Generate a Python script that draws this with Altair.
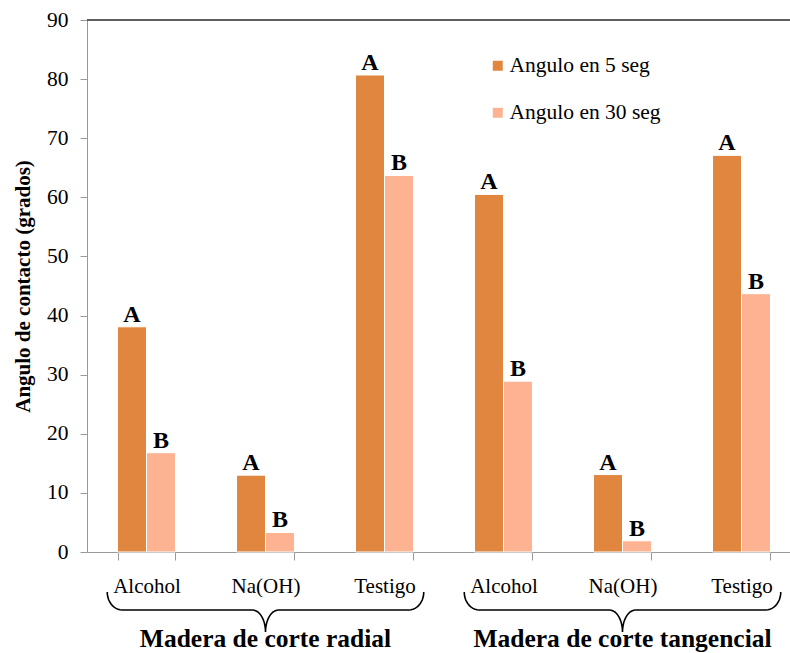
import altair as alt
import pandas as pd
import numpy as np

# ---- data ----
categories = ["Alcohol", "Na(OH)", "Testigo"]
groups = ["Madera de corte radial", "Madera de corte tangencial"]
series = ["Angulo en 5 seg", "Angulo en 30 seg"]
values_5 = [38.1, 13.0, 80.7, 60.5, 13.1, 67.1]
values_30 = [16.8, 3.3, 63.7, 28.9, 1.9, 43.7]
letters_5 = ["A", "A", "A", "A", "A", "A"]
letters_30 = ["B", "B", "B", "B", "B", "B"]

SERIF = "'Liberation Serif', 'Times New Roman', 'DejaVu Serif', serif"
DARK = "#E0863E"
LIGHT = "#FDB391"

keys = [f"{c}|{g}" for g in range(len(groups)) for c in categories]

rows = []
for i, k in enumerate(keys):
    rows.append({"key": k, "series": series[0], "value": values_5[i], "letter": letters_5[i]})
    rows.append({"key": k, "series": series[1], "value": values_30[i], "letter": letters_30[i]})
df = pd.DataFrame(rows)

PLOT_W = 703
RANGE_W = 714
PLOT_H = 532

xenc = alt.X(
    "key:N",
    sort=keys,
    scale=alt.Scale(domain=keys, range=[0, RANGE_W], paddingInner=0.513, paddingOuter=0.2565),
    axis=alt.Axis(
        title=None,
        labelExpr="split(datum.label, '|')[0]",
        labelAngle=0,
        labelFont=SERIF,
        labelFontSize=21,
        labelColor="black",
        labelBaseline="alphabetic",
        labelPadding=32,
        tickSize=8,
        tickBand="extent",
        tickColor="#999",
        domainColor="#999",
        grid=False,
    ),
)
yscale = alt.Scale(domain=[0, 90], nice=False)

bars = alt.Chart(df).mark_bar(stroke="white", strokeWidth=1).encode(
    x=xenc,
    xOffset=alt.XOffset("series:N", sort=series, scale=alt.Scale(domain=series, paddingInner=0, paddingOuter=0)),
    y=alt.Y(
        "value:Q",
        scale=yscale,
        axis=alt.Axis(
            values=list(range(0, 91, 10)),
            title="Angulo de contacto (grados)",
            titleFont=SERIF,
            titleFontSize=21,
            titleFontWeight="bold",
            titleColor="black",
            titlePadding=13,
            labelFont=SERIF,
            labelFontSize=21.5,
            labelColor="black",
            labelPadding=12,
            tickSize=7,
            tickColor="#999",
            domainColor="#999",
            grid=False,
        ),
    ),
    color=alt.Color(
        "series:N",
        sort=series,
        scale=alt.Scale(domain=series, range=[DARK, LIGHT]),
        legend=alt.Legend(
            orient="none",
            legendX=400,
            legendY=35,
            title=None,
            symbolType="square",
            symbolSize=100,
            symbolStrokeWidth=0,
            labelFont=SERIF,
            labelFontSize=21.5,
            labelColor="black",
            labelOffset=1,
            rowPadding=24,
        ),
    ),
)

letters = alt.Chart(df).mark_text(
    baseline="alphabetic", dy=-5, font=SERIF, fontSize=24, fontWeight="bold", color="black"
).encode(
    x=alt.X("key:N", sort=keys),
    xOffset=alt.XOffset("series:N", sort=series),
    y=alt.Y("value:Q", scale=yscale),
    text="letter:N",
)

titles_df = pd.DataFrame({"key": [f"{categories[1]}|{g}" for g in range(len(groups))], "title": groups})
titles = alt.Chart(titles_df).mark_text(
    baseline="alphabetic", font=SERIF, fontSize=25.5, fontWeight="bold", color="black"
).encode(
    x=alt.X("key:N", sort=keys),
    y=alt.value(627),
    text="title:N",
)

top_rule = alt.Chart(titles_df).mark_rule(color="#555", strokeWidth=1.5).encode(
    x=alt.value(0), x2=alt.value(RANGE_W), y=alt.value(0)
)

inner = alt.layer(bars, letters, titles, top_rule)

# ---- braces (decoration under each group of categories) ----
ncat = len(categories)
brace_rows = []
for g in range(len(groups)):
    x0 = g * ncat + 0.17
    x1 = g * ncat + ncat - 0.17
    xc = g * ncat + ncat / 2
    rx, rx2, hy = 0.126, 0.11, 0.45
    t = np.linspace(0, np.pi / 2, 12)
    pts = []
    pts += [(x0 + rx - rx * np.cos(a), hy * np.sin(a)) for a in t]
    pts += [(xc - rx2 + rx2 * np.sin(a), 1 - (1 - hy) * np.cos(a)) for a in t]
    pts += [(xc + rx2 - rx2 * np.sin(a), 1 - (1 - hy) * np.cos(a)) for a in t[::-1]]
    pts += [(x1 - rx + rx * np.cos(a), hy * np.sin(a)) for a in t[::-1]]
    for i, (px, py) in enumerate(pts):
        brace_rows.append({"g": g, "o": i, "bx": float(px), "by": float(py)})
brace_df = pd.DataFrame(brace_rows)

braces = alt.Chart(brace_df).mark_line(color="black", strokeWidth=1.6).encode(
    x=alt.X("bx:Q", scale=alt.Scale(domain=[0, 6], range=[0, RANGE_W], nice=False, zero=False), axis=None),
    y=alt.Y("by:Q", scale=alt.Scale(domain=[0, 1], range=[572, 612], nice=False, zero=False), axis=None),
    detail="g:N",
    order="o:Q",
)

chart = alt.layer(inner, braces).resolve_scale(x="independent", y="independent").properties(
    width=PLOT_W,
    height=PLOT_H,
    autosize=alt.AutoSizeParams(type="none"),
    padding={"left": 87, "top": 20, "right": 0, "bottom": 101},
).configure_view(stroke=None).configure(background="white")

chart.save("out.html", embed_options={"renderer": "svg", "actions": False})
